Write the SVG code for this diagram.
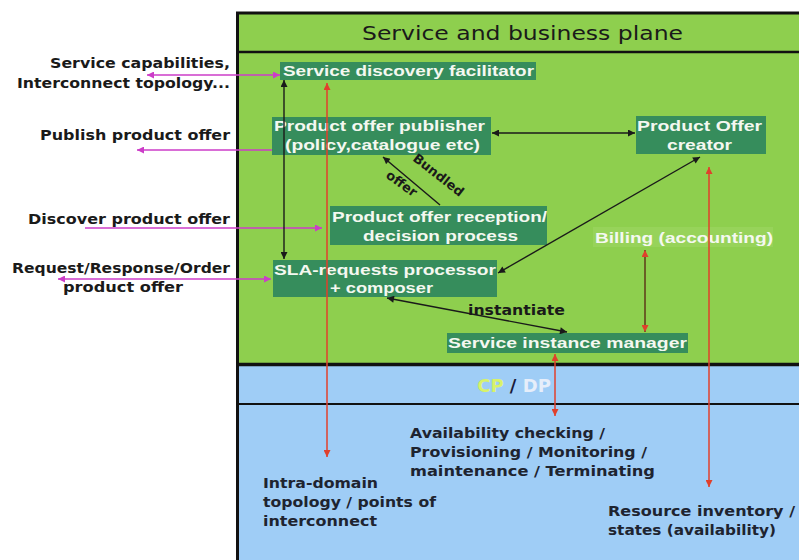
<svg xmlns="http://www.w3.org/2000/svg" width="799" height="560" viewBox="0 0 799 560">
  <style>
    .box { fill: #368d5c; }
    .boxtxt { font-family: "Liberation Sans", Arial, sans-serif; font-weight: bold; font-size: 15px; fill: #f4f8f0; }
    .side { font-family: "DejaVu Sans", Verdana, sans-serif; font-weight: bold; font-size: 13.5px; fill: #1a1a1a; }
    .low { font-family: "DejaVu Sans", Verdana, sans-serif; font-weight: bold; font-size: 13.5px; fill: #1e2430; }
    .blk { stroke: #1a1a1a; stroke-width: 1.4; fill: none; }
    .mag { stroke: #cc3cc8; stroke-width: 1.6; fill: none; }
    .red { stroke: #e0402c; stroke-width: 1.5; fill: none; }
  </style>
  <defs>
    <marker id="hBlk" viewBox="0 0 10 10" refX="10" refY="5" markerWidth="8" markerHeight="7" markerUnits="userSpaceOnUse" orient="auto-start-reverse">
      <path d="M0,0 L10,5 L0,10 z" fill="#1a1a1a"/>
    </marker>
    <marker id="hMag" viewBox="0 0 10 10" refX="10" refY="5" markerWidth="9" markerHeight="7" markerUnits="userSpaceOnUse" orient="auto-start-reverse">
      <path d="M0,0 L10,5 L0,10 z" fill="#cc3cc8"/>
    </marker>
    <marker id="hRed" viewBox="0 0 10 10" refX="10" refY="5" markerWidth="8" markerHeight="7" markerUnits="userSpaceOnUse" orient="auto-start-reverse">
      <path d="M0,0 L10,5 L0,10 z" fill="#e0402c"/>
    </marker>
  </defs>

  <rect x="0" y="0" width="799" height="560" fill="#ffffff"/>

  <!-- planes -->
  <g id="planes">
    <rect x="236" y="12" width="570" height="353" fill="#8ecf4e"/>
    <rect x="236" y="365" width="570" height="200" fill="#9fcdf6"/>
    <line x1="236" y1="13" x2="799" y2="13" stroke="#111" stroke-width="3"/>
    <line x1="237.5" y1="12" x2="237.5" y2="560" stroke="#111" stroke-width="3"/>
    <line x1="236" y1="52" x2="799" y2="52" stroke="#111" stroke-width="2.5"/>
    <line x1="236" y1="364.5" x2="799" y2="364.5" stroke="#111" stroke-width="3.5"/>
    <line x1="236" y1="404" x2="799" y2="404" stroke="#111" stroke-width="2"/>
    <text x="362" y="40" textLength="321" lengthAdjust="spacingAndGlyphs" font-family="DejaVu Sans, Verdana, sans-serif" font-size="20" fill="#1a1a1a">Service and business plane</text>
    <text x="514" y="392" text-anchor="middle" font-family="DejaVu Sans, Verdana, sans-serif" font-weight="bold" font-size="18"><tspan fill="#d8f26a">CP</tspan><tspan fill="#1a1a3a"> / </tspan><tspan fill="#e6eefa">DP</tspan></text>
  </g>

  <!-- nodes -->
  <g id="discovery">
    <rect class="box" x="280" y="62" width="256" height="18"/>
    <text class="boxtxt" x="283" y="76" textLength="251" lengthAdjust="spacingAndGlyphs">Service discovery facilitator</text>
  </g>
  <g id="publisher">
    <rect class="box" x="272" y="117" width="219" height="38"/>
    <text class="boxtxt" x="274" y="131" textLength="211" lengthAdjust="spacingAndGlyphs">Product offer publisher</text>
    <text class="boxtxt" x="285" y="150" textLength="195" lengthAdjust="spacingAndGlyphs">(policy,catalogue etc)</text>
  </g>
  <g id="creator">
    <rect class="box" x="636" y="116" width="130" height="38"/>
    <text class="boxtxt" x="637" y="131" textLength="125" lengthAdjust="spacingAndGlyphs">Product Offer</text>
    <text class="boxtxt" x="667" y="150" textLength="65" lengthAdjust="spacingAndGlyphs">creator</text>
  </g>
  <g id="reception">
    <rect class="box" x="330" y="206" width="217" height="39"/>
    <text class="boxtxt" x="332" y="222" textLength="215" lengthAdjust="spacingAndGlyphs">Product offer reception/</text>
    <text class="boxtxt" x="363" y="241" textLength="155" lengthAdjust="spacingAndGlyphs">decision process</text>
  </g>
  <g id="billing">
    <rect x="593" y="227" width="180" height="20" fill="#97d35a"/>
    <text class="boxtxt" x="595" y="243" textLength="178" lengthAdjust="spacingAndGlyphs" fill="#eef4e2">Billing (accounting)</text>
  </g>
  <g id="sla">
    <rect class="box" x="273" y="260" width="224" height="37"/>
    <text class="boxtxt" x="274" y="275" textLength="222" lengthAdjust="spacingAndGlyphs">SLA-requests processor</text>
    <text class="boxtxt" x="330" y="293" textLength="103" lengthAdjust="spacingAndGlyphs">+ composer</text>
  </g>
  <g id="instance">
    <rect class="box" x="447" y="333" width="241" height="20"/>
    <text class="boxtxt" x="448" y="348" textLength="239" lengthAdjust="spacingAndGlyphs">Service instance manager</text>
  </g>

  <!-- external interface labels -->
  <g id="labels">
    <text class="side" x="50" y="68" textLength="180" lengthAdjust="spacingAndGlyphs">Service capabilities,</text>
    <text class="side" x="17" y="88" textLength="213" lengthAdjust="spacingAndGlyphs">Interconnect topology...</text>
    <text class="side" x="40" y="140" textLength="190" lengthAdjust="spacingAndGlyphs">Publish product offer</text>
    <text class="side" x="28" y="224" textLength="202" lengthAdjust="spacingAndGlyphs">Discover product offer</text>
    <text class="side" x="12" y="273" textLength="218" lengthAdjust="spacingAndGlyphs">Request/Response/Order</text>
    <text class="side" x="63" y="292" textLength="120" lengthAdjust="spacingAndGlyphs">product offer</text>
    <text class="low" x="410" y="438" textLength="195" lengthAdjust="spacingAndGlyphs">Availability checking /</text>
    <text class="low" x="410" y="457" textLength="237" lengthAdjust="spacingAndGlyphs">Provisioning / Monitoring /</text>
    <text class="low" x="410" y="476" textLength="245" lengthAdjust="spacingAndGlyphs">maintenance / Terminating</text>
    <text class="low" x="263" y="488" textLength="115" lengthAdjust="spacingAndGlyphs">Intra-domain</text>
    <text class="low" x="263" y="507" textLength="173" lengthAdjust="spacingAndGlyphs">topology / points of</text>
    <text class="low" x="263" y="526" textLength="114" lengthAdjust="spacingAndGlyphs">interconnect</text>
    <text class="low" x="608" y="516" textLength="187" lengthAdjust="spacingAndGlyphs">Resource inventory /</text>
    <text class="low" x="608" y="535" textLength="168" lengthAdjust="spacingAndGlyphs">states (availability)</text>
  </g>

  <!-- connectors -->
  <g id="connectors">
    <!-- external exchanges -->
    <line class="mag" x1="147" y1="75" x2="280" y2="75" marker-start="url(#hMag)" marker-end="url(#hMag)"/>
    <line class="mag" x1="272" y1="150" x2="137" y2="150" marker-end="url(#hMag)"/>
    <line class="mag" x1="85" y1="228" x2="322" y2="228" marker-end="url(#hMag)"/>
    <line class="mag" x1="58" y1="279" x2="271" y2="279" marker-start="url(#hMag)" marker-end="url(#hMag)"/>

    <!-- internal business flows -->
    <line class="blk" x1="284" y1="80" x2="284" y2="259" marker-start="url(#hBlk)" marker-end="url(#hBlk)"/>
    <line class="blk" x1="492" y1="133" x2="635" y2="133" marker-start="url(#hBlk)" marker-end="url(#hBlk)"/>
    <line class="blk" x1="440" y1="205" x2="383" y2="157" marker-end="url(#hBlk)"/>
    <line class="blk" x1="700" y1="157" x2="498" y2="273" marker-start="url(#hBlk)" marker-end="url(#hBlk)"/>
    <line class="blk" x1="387" y1="298" x2="567" y2="332" marker-start="url(#hBlk)" marker-end="url(#hBlk)"/>
    <text x="0" y="0" transform="translate(412,160) rotate(38)" font-family="DejaVu Sans, Verdana, sans-serif" font-weight="bold" font-size="13" fill="#1a1a1a">Bundled</text>
    <text x="0" y="0" transform="translate(385,177) rotate(36)" font-family="DejaVu Sans, Verdana, sans-serif" font-weight="bold" font-size="13" fill="#1a1a1a">offer</text>
    <text x="468" y="315" textLength="97" lengthAdjust="spacingAndGlyphs" font-family="DejaVu Sans, Verdana, sans-serif" font-weight="bold" font-size="14" fill="#1a1a1a">instantiate</text>

    <!-- links down to the control / data plane -->
    <line class="red" x1="327" y1="83" x2="327" y2="457" marker-start="url(#hRed)" marker-end="url(#hRed)"/>
    <line class="red" x1="555" y1="354" x2="555" y2="416" marker-start="url(#hRed)" marker-end="url(#hRed)"/>
    <line class="red" x1="709" y1="167" x2="709" y2="487" marker-start="url(#hRed)" marker-end="url(#hRed)"/>
    <line x1="645" y1="250" x2="645" y2="332" stroke="#5c3a18" stroke-width="1.5" marker-start="url(#hRed)" marker-end="url(#hRed)"/>
  </g>
</svg>
